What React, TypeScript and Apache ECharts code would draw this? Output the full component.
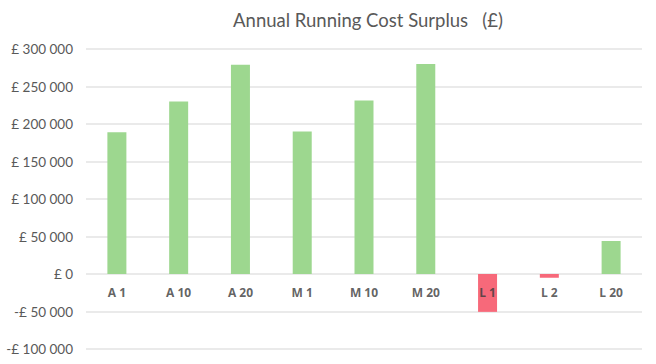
import React, { useEffect, useRef } from "react";
import * as echarts from "echarts";

const categories = ["A 1", "A 10", "A 20", "M 1", "M 10", "M 20", "L 1", "L 2", "L 20"];
const surplus = [189000, 230000, 279000, 190000, 231500, 280000, -50500, -5000, 44000];
const yMin = -100000;
const yMax = 300000;
const yStep = 50000;

const POS = "#9DD78F";
const NEG = "#F7697A";
const FONT = "Lato, 'Open Sans', sans-serif";

function fmtMoney(v: number): string {
  const abs = Math.abs(v);
  const s = String(abs).replace(/\B(?=(\d{3})+(?!\d))/g, " ");
  return (v < 0 ? "-£ " : "£ ") + s;
}

export default function App() {
  const ref = useRef<HTMLDivElement>(null);
  useEffect(() => {
    if (!ref.current) return;
    const chart = echarts.init(ref.current, undefined, { renderer: "svg" });
    chart.setOption({
      animation: false,
      backgroundColor: "#ffffff",
      title: {
        text: "Annual Running Cost Surplus   (£)",
        left: 363,
        textAlign: "center",
        top: 5,
        textStyle: { fontFamily: FONT, fontSize: 18.5, fontWeight: "normal", color: "#595959" },
      },
      grid: { left: 86, right: 14, top: 49, bottom: 15, containLabel: false, outerBoundsMode: "none" },
      xAxis: {
        type: "category",
        data: categories,
        axisLine: { show: false },
        axisTick: { show: false },
        axisLabel: { show: false },
      },
      yAxis: {
        type: "value",
        min: yMin,
        max: yMax,
        interval: yStep,
        axisLine: { show: false },
        axisTick: { show: false },
        splitLine: { lineStyle: { color: "#e3e3e3", width: 1.5 } },
        axisLabel: {
          margin: 13,
          fontFamily: FONT,
          fontSize: 13.5,
          color: "#595959",
          formatter: (v: number) => fmtMoney(v),
        },
      },
      series: [
        {
          type: "bar",
          barWidth: 19,
          z: 2,
          data: surplus.map((v) => ({
            value: v,
            itemStyle: { color: v < 0 ? NEG : POS },
          })),
        },
        {
          type: "scatter",
          z: 5,
          symbolSize: 1,
          itemStyle: { color: "rgba(0,0,0,0)" },
          silent: true,
          data: categories.map((c) => [c, 0]),
          label: {
            show: true,
            position: "bottom",
            distance: 12,
            formatter: (p: any) => p.name || p.value[0],
            fontFamily: "'Open Sans', Lato, sans-serif",
            fontSize: 12,
            fontWeight: 700,
            color: "#3a3a3a",
          },
        },
      ],
    });
    return () => chart.dispose();
  }, []);
  return (
    <div
      ref={ref}
      style={{ position: "fixed", left: 0, top: 0, width: 656, height: 364, background: "#fff" }}
    />
  );
}
